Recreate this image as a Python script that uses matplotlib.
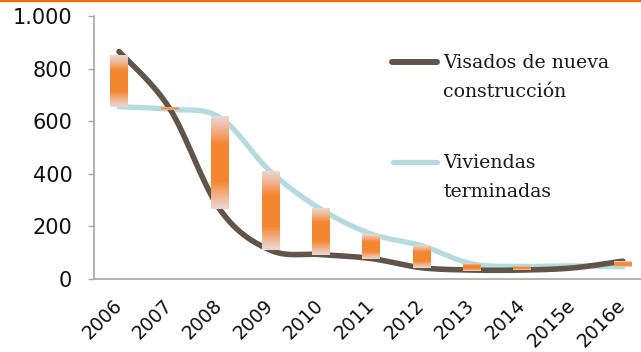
import numpy as np
import matplotlib.pyplot as plt
from matplotlib.colors import LinearSegmentedColormap
from matplotlib.lines import Line2D

# ---- data (miles de viviendas) ----
years = ['2006', '2007', '2008', '2009', '2010', '2011', '2012', '2013', '2014', '2015e', '2016e']
visados = [865, 650, 265, 110, 93, 78, 43, 34, 34, 42, 68]
viviendas = [655, 645, 615, 410, 266, 172, 127, 58, 48, 50, 46]
# up/down bars between the two series (none drawn for 2015e)
bar_hi = [852, 650, 616, 407, 266, 171, 127, 60, 49, None, 66]
bar_lo = [655, 642, 266, 110, 91, 76, 42, 32, 34, None, 44]

W, H = 641, 352
brown = '#625448'
cyan = '#b3dbe0'
orange = '#f58630'
grey = '#a6a6a6'


def smooth(xs, ys, sx=1.0, sy=1.0, n=30):
    # excel style smoothed line: bezier segments, control points from neighbours
    p = np.column_stack([np.asarray(xs, float) * sx, np.asarray(ys, float) * sy])
    out = [p[0]]
    for i in range(len(p) - 1):
        p0 = p[i - 1] if i > 0 else p[i]
        p3 = p[i + 2] if i + 2 < len(p) else p[i + 1]
        c1 = p[i] + (p[i + 1] - p0) / 6.0
        c2 = p[i + 1] - (p3 - p[i]) / 6.0
        t = np.linspace(0, 1, n)[1:, None]
        seg = ((1 - t) ** 3) * p[i] + 3 * ((1 - t) ** 2) * t * c1 + 3 * (1 - t) * t ** 2 * c2 + t ** 3 * p[i + 1]
        out.extend(seg)
    out = np.array(out)
    return out[:, 0] / sx, out[:, 1] / sy


fig = plt.figure(figsize=(W / 100, H / 100), dpi=100)
ax = fig.add_axes([93.8 / W, 73 / H, (648 - 93.8) / W, (279 - 16) / H])

x = np.arange(len(years))
# scale so the curve is computed in (roughly) pixel space
sx, sy = 50.4, 0.263

bx, by = smooth(x, visados, sx, sy)
ax.plot(bx, by, color=brown, lw=4.0, solid_capstyle='round', zorder=2)
cx, cy = smooth(x, viviendas, sx, sy)
ax.plot(cx, cy, color=cyan, lw=3.8, solid_capstyle='round', zorder=1)

# gradient up/down bars
cmap = LinearSegmentedColormap.from_list('bar', [
    (0.0, '#e8d8d6'), (0.1, '#f0bda0'), (0.3, orange), (0.7, orange), (0.9, '#f0bda0'), (1.0, '#e8d8d6')])
grad = np.linspace(0, 1, 64).reshape(-1, 1)
bw = 0.34
for i, (lo, hi) in enumerate(zip(bar_lo, bar_hi)):
    if lo is None:
        continue
    ax.imshow(grad, cmap=cmap, aspect='auto', interpolation='bilinear',
              extent=(i - bw / 2, i + bw / 2, lo, hi), zorder=3)

ax.set_xlim(-0.5, len(years) - 0.5)
ax.set_ylim(0, 1000)
ax.set_yticks([0, 200, 400, 600, 800, 1000])
ax.set_yticklabels(['0', '200', '400', '600', '800', '1.000'])
ax.set_xticks(x)
ax.set_xticklabels(years, rotation=45, ha='right', va='center', rotation_mode='anchor')

for s in ['top', 'right']:
    ax.spines[s].set_visible(False)
for s in ['left', 'bottom']:
    ax.spines[s].set_color(grey)
    ax.spines[s].set_linewidth(1.2)
ax.tick_params(axis='y', length=4.5, width=1.0, color=grey, pad=11, labelsize=15, labelcolor='#111111')
ax.tick_params(axis='x', length=0, pad=17, labelsize=13.5, labelcolor='#111111')


def fx(px):
    return px / W


def fy(py):
    return 1 - py / H


# orange rule across the top
fig.add_artist(Line2D([0, 1], [fy(1), fy(1)], transform=fig.transFigure, color='#f4680b', lw=1.6))

# legend drawn by hand so the line sits on the first text line
fig.add_artist(Line2D([fx(392), fx(437)], [fy(62), fy(62)], transform=fig.transFigure,
                      color=brown, lw=4.3, solid_capstyle='round'))
fig.add_artist(Line2D([fx(393), fx(437)], [fy(162), fy(162)], transform=fig.transFigure,
                      color=cyan, lw=3.8, solid_capstyle='round'))
lfont = dict(family='DejaVu Serif', fontsize=13.6, color='#1a1a1a', va='baseline', ha='left')
fig.text(fx(443), fy(68), 'Visados de nueva', **lfont)
fig.text(fx(443), fy(97), 'construcción', **lfont)
fig.text(fx(443), fy(168), 'Viviendas', **lfont)
fig.text(fx(443), fy(197), 'terminadas', **lfont)

fig.savefig('out.png', dpi=100)
